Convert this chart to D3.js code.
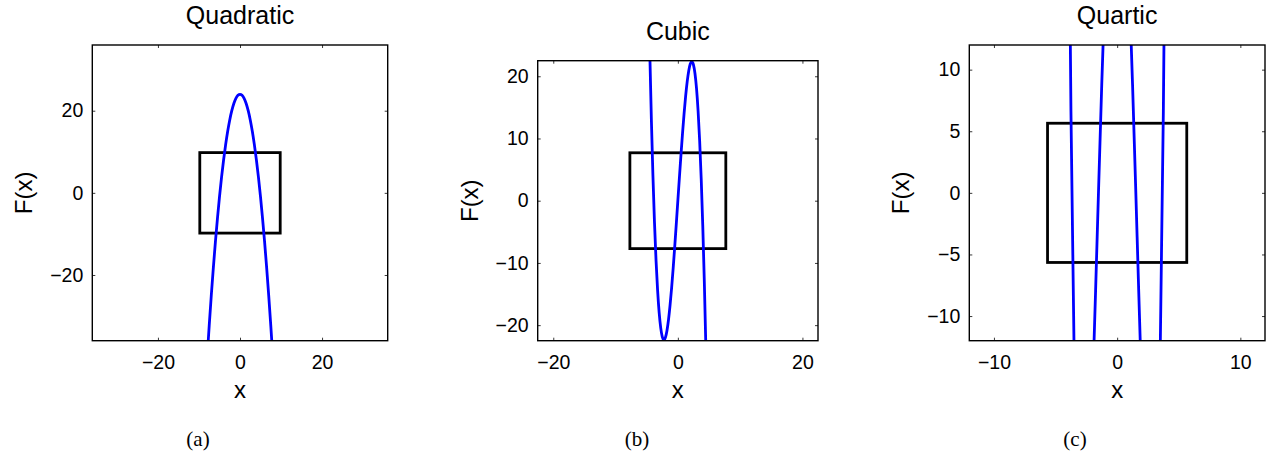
<!DOCTYPE html>
<html>
<head>
<meta charset="utf-8">
<script src="https://cdn.jsdelivr.net/npm/d3@7"></script>
<style>
  body { margin: 0; background: #fff; }
  text { font-family: "Liberation Sans", Arial, Helvetica, sans-serif; fill: #000; }
  .caption { font-family: "Liberation Serif", "Times New Roman", serif; }
</style>
</head>
<body>
<div id="container"></div>
<script>
// values
let titles = ['Quadratic', 'Cubic', 'Quartic']
let captions = ['(a)', '(b)', '(c)']

let quadX = [-8.5, -8, -7.5, -7, -6.5, -6, -5.5, -5, -4.5, -4, -3.5, -3, -2.5, -2, -1.5, -1, -0.5,
  0, 0.5, 1, 1.5, 2, 2.5, 3, 3.5, 4, 4.5, 5, 5.5, 6, 6.5, 7, 7.5, 8, 8.5]
let quadY = [-48.25, -40, -32.25, -25, -18.25, -12, -6.25, -1, 3.75, 8, 11.75, 15, 17.75, 20, 21.75, 23, 23.75,
  24, 23.75, 23, 21.75, 20, 17.75, 15, 11.75, 8, 3.75, -1, -6.25, -12, -18.25, -25, -32.25, -40, -48.25]

let cubicX = [-5, -4.75, -4.5, -4.25, -4, -3.75, -3.5, -3.25, -3, -2.75, -2.5, -2.25, -2, -1.75, -1.5, -1.25, -1, -0.75, -0.5, -0.25,
  0, 0.25, 0.5, 0.75, 1, 1.25, 1.5, 1.75, 2, 2.25, 2.5, 2.75, 3, 3.25, 3.5, 3.75, 4, 4.25, 4.5, 4.75, 5]
let cubicY = [50, 35.92, 23.63, 13.02, 4, -3.52, -9.63, -14.42, -18, -20.45, -21.88, -22.36, -22, -20.89, -19.13, -16.8, -14, -10.83, -7.38, -3.73,
  0, 3.73, 7.38, 10.83, 14, 16.8, 19.13, 20.89, 22, 22.36, 21.88, 20.45, 18, 14.42, 9.63, 3.52, -4, -13.02, -23.63, -35.92, -50]

let quartX = [-4, -3.75, -3.5, -3.25, -3, -2.75, -2.5, -2.25, -2, -1.75, -1.5, -1.25, -1, -0.75, -0.5, -0.25,
  0, 0.25, 0.5, 0.75, 1, 1.25, 1.5, 1.75, 2, 2.25, 2.5, 2.75, 3, 3.25, 3.5, 3.75, 4]
let quartY = [34.25, 6.62, -12.44, -24.27, -30.15, -31.25, -28.64, -23.31, -16.15, -7.96, 0.56, 8.8, 16.25, 22.48, 27.16, 30.07,
  31.05, 30.07, 27.16, 22.48, 16.25, 8.8, 0.56, -7.96, -16.15, -23.31, -28.64, -31.25, -30.15, -24.27, -12.44, 6.62, 34.25]

// half size of the black square and axis limits (data units)
let boxHalf = [9.8, 7.7, 5.65]
let axisLim = [36, 22.5, 12]
let xTicks = [[-20, 0, 20], [-20, 0, 20], [-10, 0, 10]]
let yTicks = [[-20, 0, 20], [-20, -10, 0, 10, 20], [-10, -5, 0, 5, 10]]
let seriesX = [quadX, cubicX, quartX]
let seriesY = [quadY, cubicY, quartY]

// layout of the three plot areas in pixels
let frames = [
  { left: 92.3, top: 45, w: 295.4, h: 295.7, cap: 198 },
  { left: 537.7, top: 60.7, w: 280.3, h: 280, cap: 637 },
  { left: 969.3, top: 45, w: 295.7, h: 295.7, cap: 1075 }
]

let W = 1273, H = 455
let svg = d3.select('#container')
  .append('svg')
  .attr('width', W)
  .attr('height', H)
  .attr('xmlns', 'http://www.w3.org/2000/svg')

svg.append('rect')
  .attr('width', W)
  .attr('height', H)
  .attr('fill', '#fff')

frames.forEach((f, i) => {
  let lim = axisLim[i]
  let x = d3.scaleLinear().domain([-lim, lim]).range([0, f.w])
  let y = d3.scaleLinear().domain([-lim, lim]).range([f.h, 0])

  let g = svg.append('g')
    .attr('transform', 'translate(' + f.left + ',' + f.top + ')')

  svg.append('clipPath')
    .attr('id', 'clip' + i)
    .append('rect')
    .attr('width', f.w)
    .attr('height', f.h)

  // ticks on all four sides, pointing inwards
  let tickLen = 3
  g.append('g')
    .attr('transform', 'translate(0,' + f.h + ')')
    .call(d3.axisBottom(x).tickValues(xTicks[i]).tickSize(-tickLen).tickPadding(14))
  g.append('g')
    .call(d3.axisLeft(y).tickValues(yTicks[i]).tickSize(-tickLen).tickPadding(9))
  g.append('g')
    .call(d3.axisTop(x).tickValues(xTicks[i]).tickSize(-tickLen).tickFormat(''))
  g.append('g')
    .attr('transform', 'translate(' + f.w + ',0)')
    .call(d3.axisRight(y).tickValues(yTicks[i]).tickSize(-tickLen).tickFormat(''))

  g.selectAll('.domain').remove()
  g.selectAll('.tick line').attr('stroke', '#222').attr('stroke-width', 0.9)
  g.selectAll('.tick text')
    .attr('font-family', '"Liberation Sans", Arial, sans-serif')
    .attr('font-size', 19.5)
    .attr('fill', '#000')

  // black square
  let b = boxHalf[i]
  g.append('rect')
    .attr('x', x(-b))
    .attr('y', y(b))
    .attr('width', x(b) - x(-b))
    .attr('height', y(-b) - y(b))
    .attr('fill', 'none')
    .attr('stroke', '#000')
    .attr('stroke-width', 2.8)

  // blue curve
  let pts = seriesX[i].map((v, k) => [v, seriesY[i][k]])
  let line = d3.line()
    .x(d => x(d[0]))
    .y(d => y(d[1]))
    .curve(d3.curveNatural)
  g.append('path')
    .attr('clip-path', 'url(#clip' + i + ')')
    .attr('d', line(pts))
    .attr('fill', 'none')
    .attr('stroke', '#0000ff')
    .attr('stroke-width', 2.8)

  // frame
  g.append('rect')
    .attr('width', f.w)
    .attr('height', f.h)
    .attr('fill', 'none')
    .attr('stroke', '#000')
    .attr('stroke-width', 1.4)

  g.append('text')
    .attr('x', f.w / 2)
    .attr('y', -21)
    .attr('text-anchor', 'middle')
    .attr('font-size', 25)
    .text(titles[i])

  g.append('text')
    .attr('x', f.w / 2)
    .attr('y', 398 - f.top)
    .attr('text-anchor', 'middle')
    .attr('font-size', 24)
    .text('x')

  g.append('text')
    .attr('transform', 'translate(-60,' + (f.h / 2) + ') rotate(-90)')
    .attr('text-anchor', 'middle')
    .attr('font-size', 24)
    .text('F(x)')

  svg.append('text')
    .attr('class', 'caption')
    .attr('x', f.cap)
    .attr('y', 446)
    .attr('text-anchor', 'middle')
    .attr('font-size', 21)
    .text(captions[i])
})
</script>
</body>
</html>
